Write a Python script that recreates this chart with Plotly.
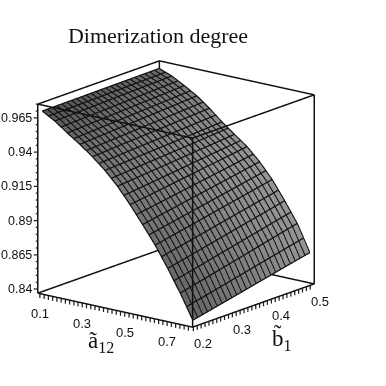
import numpy as np
import plotly.graph_objects as go

# surface: one row per b1, one value per a12
a_vals = [0.1, 0.1592, 0.2183, 0.2775, 0.3367, 0.3958, 0.455, 0.5142, 0.5733, 0.6325, 0.6917, 0.7508, 0.81]
b_vals = [0.204, 0.304, 0.404, 0.504]
dimer_b1 = [.9693, .9640, .9573, .9510, .9440, .9360, .9265, .9150, .9025, .8895, .8745, .8585, .8407]
dimer_b2 = [.9695, .9648, .9587, .9527, .9457, .9377, .9290, .9190, .9077, .8953, .8808, .8653, .8470]
dimer_b3 = [.9698, .9657, .9601, .9543, .9473, .9393, .9315, .9230, .9128, .9012, .8872, .8722, .8534]
dimer_b4 = [.9700, .9665, .9615, .9560, .9490, .9410, .9340, .9270, .9180, .9070, .8935, .8790, .8597]
dimer = [dimer_b1, dimer_b2, dimer_b3, dimer_b4]

# grey level of the facets, same layout as dimer
shade_b1 = [ 85,  92, 100, 108, 114, 118, 120, 118, 114, 110, 106, 102, 100]
shade_b2 = [ 92, 100, 108, 116, 122, 126, 128, 128, 126, 124, 122, 120, 118]
shade_b3 = [100, 108, 116, 124, 130, 134, 138, 140, 140, 140, 138, 136, 134]
shade_b4 = [110, 116, 122, 128, 134, 140, 145, 148, 150, 150, 150, 150, 150]
shade = [shade_b1, shade_b2, shade_b3, shade_b4]

a_box = [0.09, 0.82]
b_box = [0.198, 0.51]
z_box = [0.837, 0.975]

a_ticks = [0.1, 0.3, 0.5, 0.7]
b_ticks = [0.2, 0.3, 0.4, 0.5]
z_ticks = [0.84, 0.865, 0.89, 0.915, 0.94, 0.965]

a0, a1 = a_box
b0, b1 = b_box
z0, z1 = z_box


def padded(r, p=0.03):
    return [r[0] - p * (r[1] - r[0]), r[1] + p * (r[1] - r[0])]


# box edges, the hidden back one gets covered by the surface
box_x, box_y, box_z = [], [], []
corners = [(a0, b0), (a1, b0), (a1, b1), (a0, b1), (a0, b0)]
for level in (z0, z1):
    box_x += [c[0] for c in corners] + [None]
    box_y += [c[1] for c in corners] + [None]
    box_z += [level] * 5 + [None]
for c in corners[:4]:
    box_x += [c[0], c[0], None]
    box_y += [c[1], c[1], None]
    box_z += [z0, z1, None]

# tick marks
tick_x, tick_y, tick_z = [], [], []
drop = 0.0032
for i in range(36):
    v = 0.1 + i * 0.02
    tick_x += [v, v, None]
    tick_y += [b0, b0, None]
    tick_z += [z0, z0 - drop, None]
for i in range(31):
    v = 0.2 + i * 0.01
    tick_x += [a1, a1, None]
    tick_y += [v, v, None]
    tick_z += [z0, z0 - drop, None]
for i in range(28):
    v = 0.84 + i * 0.005
    du = 0.016 if i % 5 == 0 else 0.008
    tick_x += [a0, a0 - du * (a1 - a0), None]
    tick_y += [b0, b0 - du * 0.79 * (b1 - b0), None]
    tick_z += [v, v, None]

# wireframe on the surface, 25 x 25 like the original plot; lifted a bit so it stays on top
table = np.array(dimer)
lift = 0.0004
wire_x, wire_y, wire_z = [], [], []
for b in np.linspace(b_vals[0], b_vals[-1], 25):
    col = [np.interp(b, b_vals, table[:, j]) + lift for j in range(len(a_vals))]
    wire_x += a_vals + [None]
    wire_y += [b] * len(a_vals) + [None]
    wire_z += col + [None]
for a in np.linspace(a_vals[0], a_vals[-1], 25):
    row = [np.interp(a, a_vals, table[i]) + lift for i in range(len(b_vals))]
    wire_x += [a] * len(b_vals) + [None]
    wire_y += b_vals + [None]
    wire_z += row + [None]

fig = go.Figure()
fig.add_trace(go.Surface(
    x=a_vals, y=b_vals, z=dimer,
    surfacecolor=shade, cmin=0, cmax=255,
    colorscale=[[0, "#000000"], [1, "#ffffff"]],
    showscale=False,
    hoverinfo="skip",
    lighting=dict(ambient=1, diffuse=0, specular=0, roughness=1, fresnel=0),
))
fig.add_trace(go.Scatter3d(x=wire_x, y=wire_y, z=wire_z, mode="lines",
                           line=dict(color="#111111", width=2.5), hoverinfo="skip", showlegend=False))
fig.add_trace(go.Scatter3d(x=box_x, y=box_y, z=box_z, mode="lines",
                           line=dict(color="#111111", width=3), hoverinfo="skip", showlegend=False))
fig.add_trace(go.Scatter3d(x=tick_x, y=tick_y, z=tick_z, mode="lines",
                           line=dict(color="#222222", width=2.5), hoverinfo="skip", showlegend=False))

label_font = dict(family="Liberation Sans", size=13, color="#111111")
z_font = dict(family="Liberation Sans", size=12.5, color="#111111")
title_font = dict(family="Liberation Serif", size=23, color="#111111")
notes = []
for v in a_ticks:
    notes.append(dict(x=v, y=b0, z=z0, text=str(v), showarrow=False, font=label_font, yshift=-20))
for v in b_ticks:
    notes.append(dict(x=a1, y=v, z=z0, text=str(v), showarrow=False, font=label_font, yshift=-16, xshift=10))
for v in z_ticks:
    half = len(str(v)) * 3.3
    notes.append(dict(x=a0, y=b0, z=v, text=str(v), showarrow=False, font=z_font, xshift=-(4.5 + half)))
notes.append(dict(x=0.4, y=b0, z=z0, text="ã<sub>12</sub>", showarrow=False, font=title_font, yshift=-34, xshift=-2))
notes.append(dict(x=a1, y=0.38, z=z0, text="b̃<sub>1</sub>", showarrow=False, font=title_font, yshift=-37, xshift=19))

fig.update_layout(
    width=386, height=386,
    margin=dict(l=0, r=0, t=0, b=0),
    paper_bgcolor="white",
    showlegend=False,
    title=dict(text="Dimerization degree", x=158 / 386, y=1 - 35 / 386, xanchor="center", yanchor="middle",
               font=dict(family="Liberation Serif", size=22, color="#111111")),
    scene=dict(
        domain=dict(x=[0, 0.911], y=[0.015, 0.979]),
        xaxis=dict(visible=False, range=padded(a_box)),
        yaxis=dict(visible=False, range=padded(b_box)),
        zaxis=dict(visible=False, range=padded(z_box)),
        aspectmode="manual",
        aspectratio=dict(x=1.122, y=1.122, z=1.122),
        camera=dict(eye=dict(x=1.004, y=-1.278, z=0.473), projection=dict(type="orthographic")),
        annotations=notes,
    ),
)
# the page's default body margin would cut off the z labels at the left
fig.write_html("out.html", config={"displayModeBar": False},
               post_script="document.body.style.margin = '0';")
